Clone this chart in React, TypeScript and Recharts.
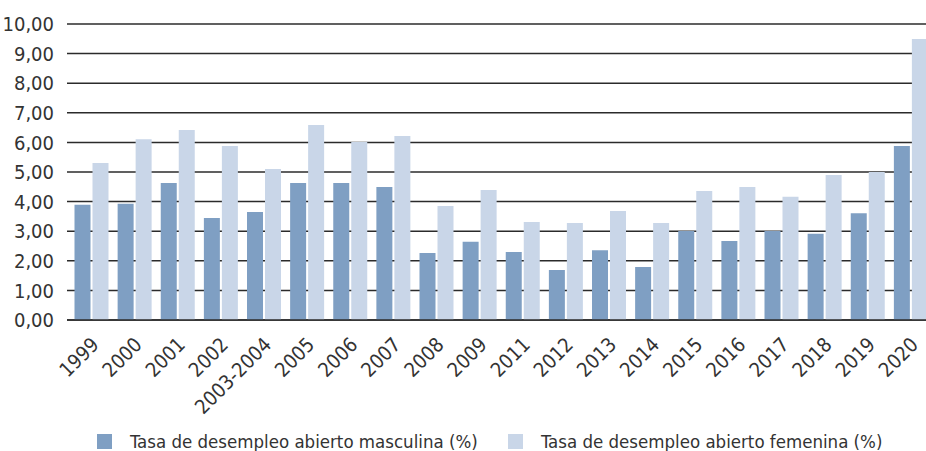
import React from "react"
import { Bar, BarChart, CartesianGrid, Legend, XAxis, YAxis } from "recharts"

const years = [
  "1999", "2000", "2001", "2002", "2003-2004", "2005", "2006", "2007", "2008", "2009",
  "2011", "2012", "2013", "2014", "2015", "2016", "2017", "2018", "2019", "2020",
]
const masculina = [
  3.89, 3.93, 4.63, 3.45, 3.65, 4.63, 4.63, 4.49, 2.26, 2.64,
  2.3, 1.69, 2.36, 1.79, 3.01, 2.67, 3.01, 2.91, 3.61, 5.88,
]
const femenina = [
  5.3, 6.11, 6.42, 5.88, 5.1, 6.59, 6.01, 6.22, 3.85, 4.39,
  3.31, 3.28, 3.68, 3.28, 4.36, 4.49, 4.16, 4.9, 5.0, 9.49,
]
const yTicks = [0, 1, 2, 3, 4, 5, 6, 7, 8, 9, 10]
const labels = {
  masc: "Tasa de desempleo abierto masculina (%)",
  fem: "Tasa de desempleo abierto femenina (%)",
}

const MASC = "#7f9fc3"
const FEM = "#c9d6e8"
const FONT = '"DejaVu Sans Condensed", "DejaVu Sans", sans-serif'

const data = years.map((year, i) => ({ year, masc: masculina[i], fem: femenina[i] }))

const fmt = (v: number) => v.toFixed(2).replace(".", ",")

function YearTick({ x, y, payload }: any) {
  return (
    <g transform={`translate(${x + 9},${y + 18})`}>
      <text
        x={0}
        y={0}
        textAnchor="end"
        transform="rotate(-45)"
        fill="#333"
        fontSize={20}
        fontFamily={FONT}
      >
        {payload.value}
      </text>
    </g>
  )
}

function LegendBox() {
  const item = (color: string, text: string, width: number) => (
    <div style={{ display: "flex", alignItems: "center", width }}>
      <div style={{ width: 15, height: 15, background: color, marginRight: 18, flexShrink: 0 }} />
      <span style={{ fontSize: 18.5, color: "#333", fontFamily: FONT, whiteSpace: "nowrap" }}>
        {text}
      </span>
    </div>
  )
  return (
    <div style={{ display: "flex", alignItems: "center", paddingLeft: 97, paddingTop: 10 }}>
      {item(MASC, labels.masc, 411)}
      {item(FEM, labels.fem, 400)}
    </div>
  )
}

export default function App() {
  return (
    <div
      style={{
        position: "absolute",
        left: 0,
        top: 0,
        width: 926,
        height: 451,
        overflow: "hidden",
        background: "#fff",
      }}
    >
      <BarChart
        width={932}
        height={451}
        data={data}
        margin={{ top: 24, right: 0, bottom: 0, left: 0 }}
        barSize={16}
        barGap={2}
      >
        <CartesianGrid vertical={false} stroke="#2b2b2b" strokeWidth={1.5} />
        <XAxis
          dataKey="year"
          interval={0}
          padding={{ left: 2.5, right: 0 }}
          axisLine={{ stroke: "#2b2b2b", strokeWidth: 1.5 }}
          tickLine={false}
          height={101}
          tick={<YearTick />}
        />
        <YAxis
          width={67}
          domain={[0, 10]}
          ticks={yTicks}
          tickFormatter={fmt}
          axisLine={false}
          tickLine={false}
          tickMargin={7}
          tick={{ fontSize: 20, fill: "#333", fontFamily: FONT }}
        />
        <Legend verticalAlign="bottom" height={30} content={() => <LegendBox />} />
        <Bar dataKey="masc" name={labels.masc} fill={MASC} isAnimationActive={false} />
        <Bar dataKey="fem" name={labels.fem} fill={FEM} isAnimationActive={false} />
      </BarChart>
    </div>
  )
}
